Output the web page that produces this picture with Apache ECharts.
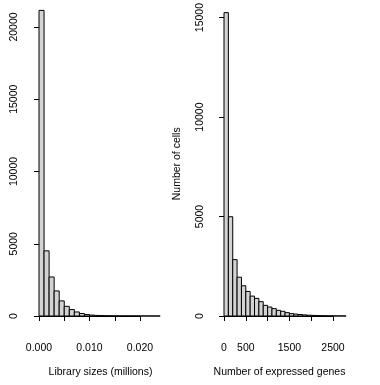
<!DOCTYPE html>
<html>
<head>
<meta charset="utf-8">
<script src="https://cdn.jsdelivr.net/npm/echarts@6/dist/echarts.min.js"></script>
<style>html,body{margin:0;padding:0;background:#fff;}#c{width:380px;height:385px;}</style>
</head>
<body>
<div id="c"></div>
<script>
// Left histogram: library sizes (millions), bin width 0.001
const leftBinWidth = 0.001;
const leftCounts = [21150, 4510, 2700, 1735, 1045, 670, 445, 280, 170, 100, 62, 40, 27, 18, 12, 9, 7, 5, 4, 3, 2, 2, 1, 1];
const leftXLabels = ['0.000', '', '0.010', '', '0.020'];
const leftYLabels = ['0', '5000', '10000', '15000', '20000'];

// Right histogram: number of expressed genes, bin width 100
const rightBinWidth = 100;
const rightCounts = [15250, 4990, 2835, 1950, 1520, 1235, 1000, 885, 720, 535, 450, 370, 285, 235, 170, 120, 95, 75, 55, 40, 30, 22, 15, 10, 7, 5, 3, 2];
const rightXLabels = ['0', '500', '', '1500', '', '2500'];
const rightYLabels = ['0', '5000', '10000', '15000'];

const leftXName = 'Library sizes (millions)';
const rightXName = 'Number of expressed genes';
const rightYName = 'Number of cells';

function bins(counts, w) {
  return counts.map((c, i) => [i * w, (i + 1) * w, c]);
}

const font = 'Liberation Sans, Arial, Helvetica, sans-serif';
const txt = { color: '#000', fontSize: 10.5, fontFamily: font };

function renderHist(params, api) {
  const p0 = api.coord([api.value(0), 0]);
  const p1 = api.coord([api.value(1), api.value(2)]);
  return {
    type: 'rect',
    shape: { x: p0[0], y: p1[1], width: p1[0] - p0[0], height: p0[1] - p1[1] },
    style: { fill: '#d3d3d3', stroke: '#000', lineWidth: 1 }
  };
}

function xAxis(idx, max, interval, labels, name, pad) {
  return {
    type: 'value', gridIndex: idx, min: 0, max: max, interval: interval,
    offset: 12,
    axisLine: { show: true, lineStyle: { color: '#000', width: 1 } },
    axisTick: { show: true, length: 5, lineStyle: { color: '#000' } },
    axisLabel: Object.assign({ margin: 15, formatter: (v, i) => labels[i] !== undefined ? labels[i] : '' }, txt),
    splitLine: { show: false },
    name: name, nameLocation: 'middle', nameGap: 39,
    nameTextStyle: Object.assign({ padding: pad }, txt)
  };
}

function yAxis(idx, max, labels, offset, name) {
  const a = {
    type: 'value', gridIndex: idx, min: 0, max: max, interval: 5000,
    offset: offset,
    axisLine: { show: true, lineStyle: { color: '#000', width: 1 } },
    axisTick: { show: true, length: 5, lineStyle: { color: '#000' } },
    axisLabel: Object.assign({ margin: 13, rotate: 90, formatter: (v, i) => labels[i] !== undefined ? labels[i] : '' }, txt),
    splitLine: { show: false }
  };
  if (name) {
    a.name = name;
    a.nameLocation = 'middle';
    a.nameRotate = 90;
    a.nameGap = 36;
    a.nameTextStyle = Object.assign({ padding: [0, 0, 0, 6] }, txt);
  }
  return a;
}

const chart = echarts.init(document.getElementById('c'), null, { renderer: 'canvas' });
chart.setOption({
  animation: false,
  backgroundColor: '#fff',
  grid: [
    { left: 39, top: 27, width: 101, height: 289 },
    { left: 224, top: 16, width: 109, height: 300 }
  ],
  xAxis: [
    xAxis(0, 0.02, 0.005, leftXLabels, leftXName, [0, 0, 0, 22]),
    xAxis(1, 2500, 500, rightXLabels, rightXName, [0, 0, 0, 2])
  ],
  yAxis: [
    yAxis(0, 20000, leftYLabels, 6, null),
    yAxis(1, 15000, rightYLabels, 5, rightYName)
  ],
  series: [
    { type: 'custom', xAxisIndex: 0, yAxisIndex: 0, clip: false, renderItem: renderHist,
      encode: { x: [0, 1], y: 2 }, data: bins(leftCounts, leftBinWidth) },
    { type: 'custom', xAxisIndex: 1, yAxisIndex: 1, clip: false, renderItem: renderHist,
      encode: { x: [0, 1], y: 2 }, data: bins(rightCounts, rightBinWidth) }
  ]
});
</script>
</body>
</html>
